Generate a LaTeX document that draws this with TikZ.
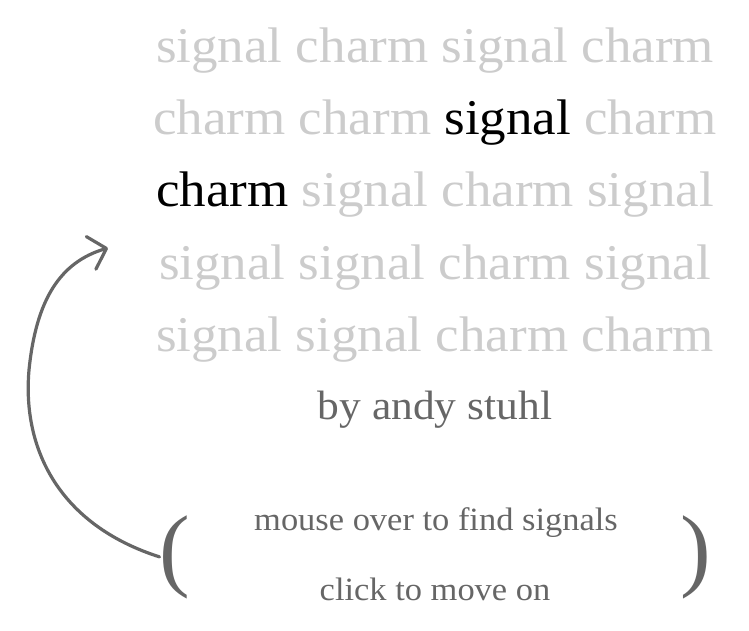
\documentclass[tikz,border=0pt]{standalone}
\usepackage{fontspec}
\setmainfont{Liberation Serif}[FakeStretch=1.06]
\newfontfamily\parenfont{Liberation Serif}
\usetikzlibrary{arrows.meta}
\definecolor{faint}{RGB}{204,204,204}
\definecolor{ink}{RGB}{0,0,0}
\definecolor{mid}{RGB}{102,102,102}
\tikzset{
  row/.style={anchor=base, inner sep=0pt, text=faint, font=\fontsize{50}{50}\selectfont},
  byline/.style={anchor=base, inner sep=0pt, text=mid, font=\fontsize{41}{41}\selectfont},
  hint/.style={anchor=base, inner sep=0pt, text=mid, font=\fontsize{32.5}{32.5}\selectfont},
  paren/.style={anchor=base, inner sep=0pt, text=mid, font=\parenfont\fontsize{92}{92}\selectfont},
  loop/.style={draw=mid, line width=3.2pt, line cap=round, -{Straight Barb[length=16pt,width=34pt,line width=3.2pt,round]}}
}
\begin{document}
\begin{tikzpicture}[x=1pt,y=-1pt]
\useasboundingbox (0,0) rectangle (749,631);
\node[row] (r1) at (435,63) {signal charm signal charm};
\node[row] (r2) at (435,135) {charm charm \textcolor{ink}{signal} charm};
\node[row] (r3) at (435,207) {\textcolor{ink}{charm} signal charm signal};
\node[row] (r4) at (435,279) {signal signal charm signal};
\node[row] (r5) at (435,351) {signal signal charm charm};
\node[byline] (by) at (435,419) {by andy stuhl};
\node[hint] (h1) at (436,530) {mouse over to find signals};
\node[hint] (h2) at (435,600) {click to move on};
\node[paren] (lp) at (175,579) {(};
\node[paren] (rp) at (696,579) {)};
\coordinate (tip) at (108,248);
\draw[loop] (lp.west) .. controls (60,525) and (22,450) .. (29,370)
  .. controls (36,300) and (60,262) .. (tip);
\end{tikzpicture}
\end{document}
